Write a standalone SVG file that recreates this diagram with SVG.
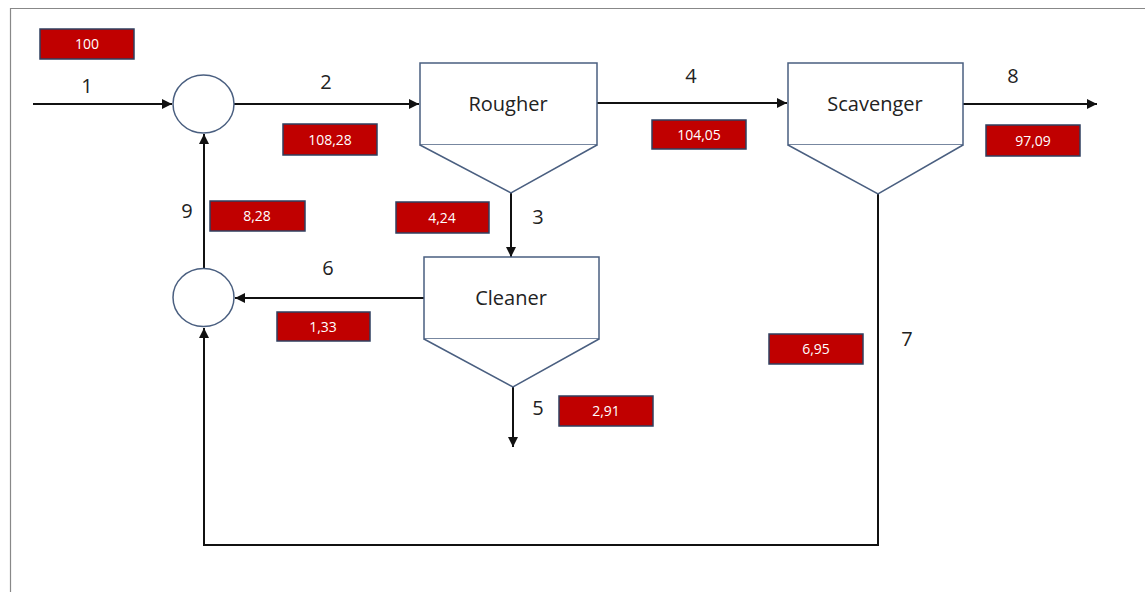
<svg xmlns="http://www.w3.org/2000/svg" width="1145" height="592" viewBox="0 0 1145 592">
<style>
.unit{fill:#fff;stroke:#4a5f80;stroke-width:1.5}
.val rect{fill:#c00000;stroke:#2f3f5f;stroke-width:1.5}
.val text{fill:#fff;font-family:"Open Sans","Liberation Sans",sans-serif;font-size:14px;text-anchor:middle}
.lbl{fill:#222;font-family:"Open Sans","Liberation Sans",sans-serif;font-size:20px;text-anchor:middle}
.name{fill:#222;font-family:"Open Sans","Liberation Sans",sans-serif;font-size:20px;text-anchor:middle}
.flow{fill:none;stroke:#111;stroke-width:2}
</style>
<defs>
<marker id="ah" viewBox="0 0 10 10" refX="10" refY="5" markerWidth="5" markerHeight="5" orient="auto" markerUnits="strokeWidth">
<path d="M0,0 L10,5 L0,10 Z" fill="#111"/>
</marker>
</defs>
<rect width="1145" height="592" fill="#fff"/>
<path d="M10.5,592 V8.5 H1145" fill="none" stroke="#888" stroke-width="1.2"/>

<g id="connectors">
<path class="flow" d="M33,104 H172" marker-end="url(#ah)"/>
<path class="flow" d="M234,104 H419" marker-end="url(#ah)"/>
<path class="flow" d="M597,103 H787" marker-end="url(#ah)"/>
<path class="flow" d="M963,104 H1097" marker-end="url(#ah)"/>
<path class="flow" d="M511,193 V257" marker-end="url(#ah)"/>
<path class="flow" d="M424,298 H235" marker-end="url(#ah)"/>
<path class="flow" d="M513,387 V447" marker-end="url(#ah)"/>
<path class="flow" d="M878,194 V545 H204 V328" marker-end="url(#ah)"/>
<path class="flow" d="M204,269 V134" marker-end="url(#ah)"/>
</g>

<g id="mixer1"><ellipse class="unit" cx="203.5" cy="104" rx="30.5" ry="29"/></g>
<g id="mixer2"><ellipse class="unit" cx="203.5" cy="297.5" rx="30.5" ry="29"/></g>

<g id="rougher">
<rect class="unit" x="420" y="63" width="177" height="82"/>
<path class="unit" d="M420,145 L511,193 L597,145"/>
<text class="name" x="508" y="111">Rougher</text>
</g>
<g id="scavenger">
<rect class="unit" x="788" y="63" width="175" height="82"/>
<path class="unit" d="M788,145 L878,194 L963,145"/>
<text class="name" x="875" y="111">Scavenger</text>
</g>
<g id="cleaner">
<rect class="unit" x="424" y="257" width="175" height="82"/>
<path class="unit" d="M424,339 L513,387 L599,339"/>
<text class="name" x="511" y="305">Cleaner</text>
</g>

<g id="labels">
<text class="lbl" x="87" y="93">1</text>
<text class="lbl" x="326" y="89">2</text>
<text class="lbl" x="538" y="224">3</text>
<text class="lbl" x="691" y="83">4</text>
<text class="lbl" x="538" y="415">5</text>
<text class="lbl" x="328" y="275">6</text>
<text class="lbl" x="907" y="346">7</text>
<text class="lbl" x="1013" y="83">8</text>
<text class="lbl" x="187" y="218">9</text>
</g>

<g id="values">
<g class="val"><rect x="40" y="29" width="94" height="30"/><text x="87" y="49">100</text></g>
<g class="val"><rect x="283" y="124" width="94" height="31"/><text x="330" y="145">108,28</text></g>
<g class="val"><rect x="652" y="120" width="94" height="29"/><text x="699" y="140">104,05</text></g>
<g class="val"><rect x="986" y="125" width="94" height="31"/><text x="1033" y="146">97,09</text></g>
<g class="val"><rect x="210" y="201" width="95" height="30"/><text x="257" y="221">8,28</text></g>
<g class="val"><rect x="396" y="202" width="93" height="31"/><text x="442" y="223">4,24</text></g>
<g class="val"><rect x="277" y="312" width="93" height="29"/><text x="323" y="332">1,33</text></g>
<g class="val"><rect x="769" y="334" width="94" height="30"/><text x="816" y="354">6,95</text></g>
<g class="val"><rect x="559" y="396" width="94" height="30"/><text x="606" y="416">2,91</text></g>
</g>
</svg>
